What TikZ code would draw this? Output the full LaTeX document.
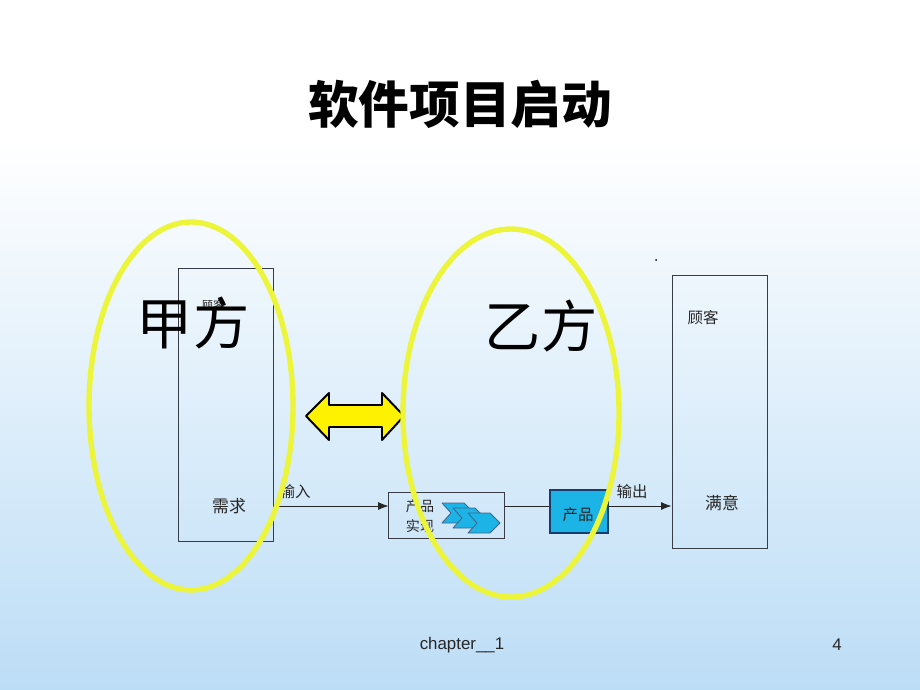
\documentclass[tikz,border=0pt]{standalone}
\usepackage{fontspec}
\setmainfont{Liberation Sans}
\newfontfamily\cjk{Noto Sans CJK SC}
\usetikzlibrary{calc,arrows.meta}

\definecolor{bgblue}{RGB}{188,221,246}
\definecolor{ringyellow}{RGB}{236,245,58}
\definecolor{prodcyan}{RGB}{28,180,230}
\definecolor{proddark}{RGB}{25,60,110}
\definecolor{boxline}{RGB}{55,60,70}

\newcommand\setfs[1]{\fontsize{#1}{#1}\selectfont}

\tikzset{
  box/.style={draw=boxline,line width=0.7pt,inner sep=0pt},
  ring/.style={draw=ringyellow,line width=3.8pt},
  label/.style={inner sep=0pt,text=black!85,font=\cjk\setfs{11}},
  big/.style={inner sep=0pt,text=black,font=\cjk\setfs{40}},
  chev/.style={draw=proddark!80,fill=prodcyan,line width=0.6pt,line join=round},
  flow/.style={draw=black!85,line width=0.6pt,-{Latex[length=2.6mm,width=2mm]}}
}

\begin{document}
\begin{tikzpicture}[x=0.025cm,y=-0.025cm]
    % Background
    \useasboundingbox (0,0) rectangle (920,690);
    \fill[white] (0,0) rectangle (920,141);
    \shade[top color=white,bottom color=bgblue] (0,140) rectangle (920,690);

    % Title
    \node[inner sep=0pt,font=\cjk\bfseries\setfs{36}] (title) at (460,104) {软件项目启动};

    % Customer box on the left
    \node[box,minimum width=2.35cm,minimum height=6.8cm] (need) at (226,405) {};
    \node[label,font=\cjk\setfs{8}] (guke1) at (213,305) {顾客};
    \node[label,font=\cjk\setfs{12}] (xuqiu) at (229,506) {需求};
    \node[big] (jia) at (193,323) {甲方};

    % Product realisation box with its chevrons
    \node[box,minimum width=2.875cm,minimum height=1.15cm] (make) at (446.5,515) {};
    \node[label,font=\cjk\setfs{10},align=center,
          execute at begin node={\baselineskip=14pt}] (shixian) at (420,516) {产品\\实现};
    \foreach \dx/\dy in {0/0,11/5,26/10}
      \draw[chev,shift={(\dx,\dy)}] (442,503) -- (464,503) -- (474,513)
        -- (464,523) -- (442,523) -- (451,513) -- cycle;

    % Product box
    \node[box,draw=proddark,line width=1.2pt,fill=prodcyan,
          minimum width=1.45cm,minimum height=1.075cm] (prod) at (579,511.5) {};
    \node[label] (chanpin) at (578,515) {产品};

    % Customer box on the right
    \node[box,minimum width=2.375cm,minimum height=6.8cm] (happy) at (719.5,412) {};
    \node[label] (guke2) at (703,318) {顾客};
    \node[label,font=\cjk\setfs{12}] (manyi) at (722,503) {满意};
    \node[big] (yi) at (541,326) {乙方};
    \fill (656,260) circle (1);

    % Connectors
    \draw[flow] (need.east |- xuqiu) -- (make.west |- xuqiu);
    \draw[draw=black!85,line width=0.6pt] (make.east |- xuqiu) -- (prod.west |- xuqiu);
    \draw[flow] (prod.east |- xuqiu) -- (happy.west |- xuqiu);
    \node[label] (shuru) at (295,492) {输入};
    \node[label] (shuchu) at (632,492) {输出};

    % Double arrow between the two parties
    \draw[fill=yellow,line width=1.4pt,line join=round]
      (306,416) -- (329,393) -- (329,405) -- (382,405) -- (382,393) -- (404,416)
      -- (382,440) -- (382,427) -- (329,427) -- (329,440) -- cycle;

    % The two rings
    \draw[ring] (191,406) ellipse (102 and 184);
    \draw[ring] (511,413) ellipse (108 and 184);

    % Footer
    \node[inner sep=0pt,text=black!85,font=\setfs{12}] (chapter) at (462,645) {chapter\_\_1};
    \node[inner sep=0pt,text=black!85,font=\setfs{12}] (page) at (837,645) {4};
\end{tikzpicture}
\end{document}
